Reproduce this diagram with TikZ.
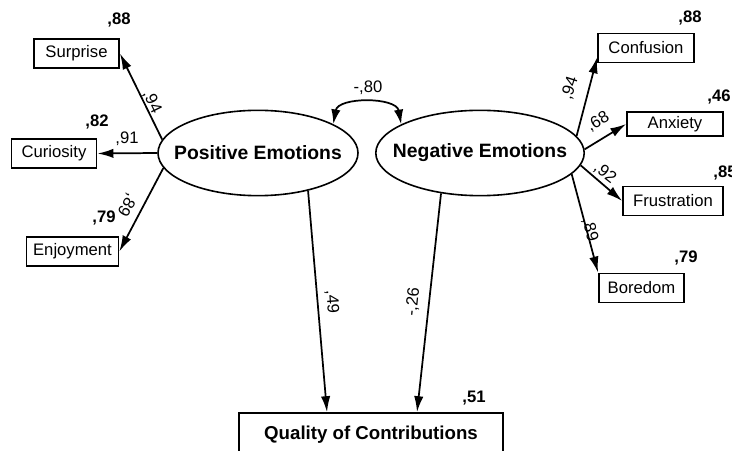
\documentclass[tikz,border=0pt]{standalone}
\usepackage{fontspec}
\setmainfont{Liberation Sans}
\usepackage{tikz}
\usetikzlibrary{shapes, arrows.meta}
\tikzstyle{obs} = [rectangle, draw, line width=1.2pt, minimum width=64pt, minimum height=22pt, inner xsep=5pt, inner ysep=0pt, font=\fontsize{12.5}{14}\selectfont]
\tikzstyle{lat} = [ellipse, draw, line width=1.2pt, minimum width=150pt, minimum height=64pt, inner xsep=-10pt, inner ysep=0pt, font=\fontsize{14.5}{16}\selectfont\bfseries]
\tikzstyle{dep} = [rectangle, draw, line width=1.2pt, minimum width=198pt, minimum height=33pt, font=\fontsize{14}{16}\selectfont\bfseries]
\tikzstyle{line} = [draw, line width=1.3pt, -{Latex[length=12pt,width=7pt]}]
\tikzstyle{corr} = [draw, line width=1.3pt, {Latex[length=11pt,width=7pt]}-{Latex[length=11pt,width=7pt]}]
\tikzstyle{coef} = [inner sep=0pt, font=\fontsize{12.5}{14}\selectfont]
\tikzstyle{rsq} = [inner sep=0pt, font=\fontsize{12.5}{14}\selectfont\bfseries]

\begin{document}
\begin{tikzpicture}[x=0.75pt, y=0.75pt]
    \useasboundingbox (0,0) rectangle (732,450);

    % latent factors
    \node[lat] (pe) at (258,297) {Positive Emotions};
    \node[lat] (ne) at (480,297) {Negative Emotions};

    % indicators
    \node[obs] (sur) at (76.5,396.5) {Surprise};
    \node[obs] (cur) at (54,296.5) {Curiosity};
    \node[obs] (enj) at (72.5,198.5) {Enjoyment};
    \node[obs, minimum width=72pt] (con) at (646,402) {Confusion};
    \node[obs, minimum width=72pt, minimum height=18pt] (anx) at (675,326) {Anxiety};
    \node[obs, minimum width=75pt] (fru) at (673,249) {Frustration};
    \node[obs] (bor) at (641.5,162) {Boredom};

    % outcome
    \node[dep] (qua) at (371,15) {Quality of Contributions};

    % loadings
    \path[line] (pe.172) -- (sur.east);
    \path[line] (pe.west) -- (cur.east);
    \path[line] (pe.189) -- (enj.east);
    \path[line] (ne.10) -- ([yshift=-7pt]con.west);
    \path[line] (ne.2) -- (anx.west);
    \path[line] (ne.-7) -- (fru.west);
    \path[line] (ne.-13) -- (bor.north west);

    % paths to outcome
    \path[line] (pe.-37) -- ([xshift=-33pt]qua.north);
    \path[line] (ne.-134) -- ([xshift=34.5pt]qua.north);

    % correlation
    \path[corr] (pe.21) to[out=80, in=100, looseness=1.05] (ne.160);

    % coefficients
    \node[coef, rotate=-64] (lsur) at (152,348) {,94};
    \node[coef] (lcur) at (127,311) {,91};
    \node[coef, rotate=240] (lenj) at (127,245) {,89};
    \node[coef, rotate=72] (lcon) at (570,362) {,94};
    \node[coef, rotate=30] (lanx) at (598,328) {,68};
    \node[coef, rotate=-38] (lfru) at (605,277) {,92};
    \node[coef, rotate=-76] (lbor) at (590,220) {,89};
    \node[coef, rotate=-86] (lpq) at (332,148) {,49};
    \node[coef, rotate=84] (lnq) at (413,148) {-,26};
    \node[coef] (lcorr) at (368,362) {-,80};

    % explained variance
    \node[rsq] (rsur) at (119,430) {,88};
    \node[rsq] (rcur) at (97,328) {,82};
    \node[rsq] (renj) at (104,232) {,79};
    \node[rsq] (rcon) at (690,432) {,88};
    \node[rsq] (ranx) at (719,353) {,46};
    \node[rsq] (rfru) at (725,277) {,85};
    \node[rsq] (rbor) at (686,192) {,79};
    \node[rsq] (rqua) at (474,52) {,51};
\end{tikzpicture}
\end{document}
